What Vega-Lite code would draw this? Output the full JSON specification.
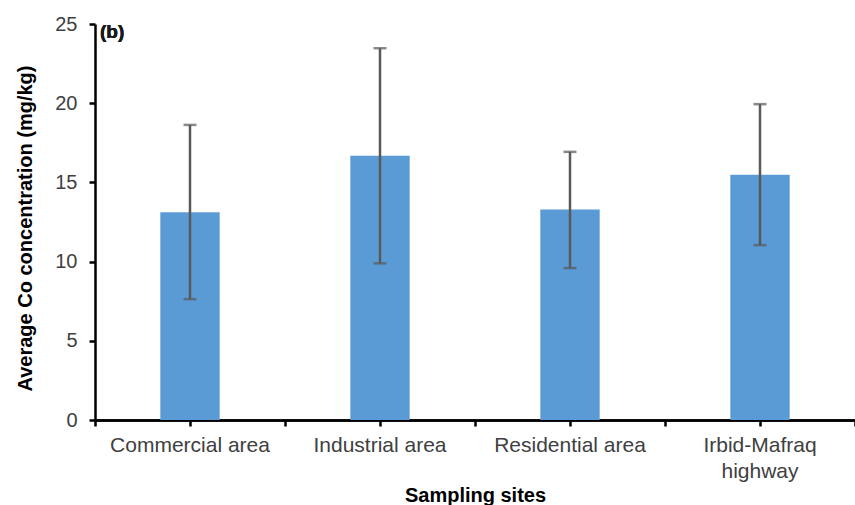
{
  "$schema": "https://vega.github.io/schema/vega-lite/v6.json",
  "autosize": {"type": "none"},
  "padding": {"left": 95, "top": 24, "right": 0, "bottom": 85},
  "width": 760,
  "height": 396,
  "background": "white",
  "config": {
    "font": "Liberation Sans",
    "view": {"stroke": null}
  },
  "data": {
    "values": [
      {"site": "Commercial area", "mean": 13.12, "lo": 7.63, "hi": 18.63},
      {"site": "Industrial area", "mean": 16.68, "lo": 9.89, "hi": 23.47},
      {"site": "Residential area", "mean": 13.29, "lo": 9.59, "hi": 16.93},
      {"site": "Irbid-Mafraq highway", "mean": 15.48, "lo": 11.04, "hi": 19.94}
    ]
  },
  "resolve": {"axis": {"x": "independent", "y": "shared"}},
  "layer": [
    {
      "mark": {"type": "bar", "color": "#5B9BD5", "width": {"band": 0.3125}},
      "encoding": {
        "x": {
          "field": "site",
          "type": "nominal",
          "sort": null,
          "scale": {"paddingInner": 0, "paddingOuter": 0},
          "axis": {
            "orient": "bottom",
            "title": "Sampling sites",
            "labelAngle": 0,
            "labelFontSize": 21,
            "labelColor": "#404040",
            "labelPadding": 8,
            "labelBaseline": "top",
            "labelLineHeight": 26,
            "labelExpr": "datum.label == 'Irbid-Mafraq highway' ? ['Irbid-Mafraq', 'highway'] : datum.label",
            "tickSize": 6,
            "tickWidth": 2.5,
            "tickColor": "black",
            "domainColor": "black",
            "domainWidth": 2.5,
            "titleFontSize": 20,
            "titleFontWeight": "bold",
            "titleColor": "black",
            "titlePadding": 4
          }
        },
        "y": {
          "field": "mean",
          "type": "quantitative",
          "title": "Average Co concentration (mg/kg)",
          "scale": {"domain": [0, 25], "nice": false},
          "axis": {
            "values": [0, 5, 10, 15, 20, 25],
            "grid": false,
            "labelFontSize": 20,
            "labelColor": "#404040",
            "labelPadding": 12,
            "tickSize": 6,
            "tickWidth": 2.5,
            "tickColor": "black",
            "domainColor": "black",
            "domainWidth": 2.5,
            "titleFontSize": 20,
            "titleFontWeight": "bold",
            "titleColor": "black",
            "titleAngle": 270,
            "titleX": -64,
            "titleY": 204,
            "titleAlign": "center",
            "titleBaseline": "alphabetic"
          }
        }
      }
    },
    {
      "mark": {
        "type": "errorbar",
        "ticks": {"size": 13, "thickness": 2.5, "color": "#595959"},
        "rule": {"strokeWidth": 2.5, "color": "#595959"}
      },
      "encoding": {
        "x": {
          "field": "site",
          "type": "nominal",
          "sort": null,
          "axis": {
            "orient": "bottom",
            "title": null,
            "labels": false,
            "tickBand": "extent",
            "tickSize": 6,
            "tickWidth": 2.5,
            "tickColor": "black",
            "domainColor": "black",
            "domainWidth": 2.5
          }
        },
        "y": {"field": "lo", "type": "quantitative", "title": "Average Co concentration (mg/kg)"},
        "y2": {"field": "hi"}
      }
    },
    {
      "mark": {
        "type": "text",
        "text": "(b)",
        "align": "left",
        "baseline": "alphabetic",
        "dx": 5,
        "fontSize": 19,
        "fontWeight": "bold",
        "color": "#1a1a1a"
      },
      "encoding": {
        "x": {"datum": "Commercial area", "type": "nominal", "bandPosition": 0, "axis": null},
        "y": {"datum": 24.12, "type": "quantitative"}
      }
    }
  ]
}
